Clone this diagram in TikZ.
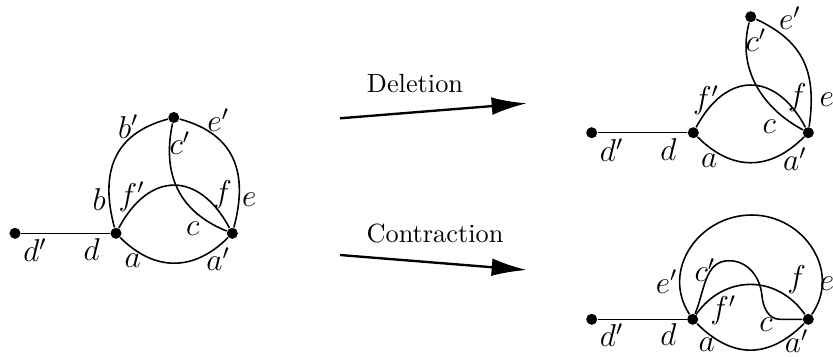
\documentclass[tikz,border=0pt]{standalone}
\usetikzlibrary{arrows.meta}
\begin{document}
\begin{tikzpicture}[x=0.38pt,y=0.38pt,
  vtx/.style={circle,fill=black,inner sep=0pt,minimum size=4.2pt},
  lbl/.style={inner sep=0pt,font=\large},
  edge/.style={line width=0.6pt},
  bigarrow/.style={line width=0.9pt,-{Latex[length=13.3pt,width=6.7pt]}}]
\useasboundingbox (0,0) rectangle (833,356);
% ---------- left graph ----------
\node[vtx] (dp1) at (15,122.7) {};
\node[vtx] (d1) at (116,122.7) {};
\node[vtx] (ap1) at (232.3,122.7) {};
\node[vtx] (t1) at (173.8,238.5) {};
\draw[edge] (dp1) -- (d1);
\draw[edge] (d1) to[out=105,in=195,looseness=1.2] (t1);
\draw[edge] (t1) to[out=-15,in=75,looseness=1.2] (ap1);
\draw[edge] (t1) to[out=258,in=158,looseness=1.1] (ap1);
\draw[edge] (d1) to[out=62,in=118,looseness=1.5] (ap1);
\draw[edge] (d1) to[out=-45,in=-135,looseness=1.15] (ap1);
\node[lbl] at (128.3,229.3) {$b'$};
\node[lbl] at (218.3,236) {$e'$};
\node[lbl] at (180,212.7) {$c'$};
\node[lbl] at (99.3,156.7) {$b$};
\node[lbl] at (131.7,159.3) {$f'$};
\node[lbl] at (222.7,161) {$f$};
\node[lbl] at (249.3,156.7) {$e$};
\node[lbl] at (192.7,127.7) {$c$};
\node[lbl] at (35,106) {$d'$};
\node[lbl] at (91.7,106) {$d$};
\node[lbl] at (132.7,95) {$a$};
\node[lbl] at (218.3,96.7) {$a'$};
% ---------- arrows ----------
\coordinate (del1) at (340,237.7);
\coordinate (del2) at (526.7,252.7);
\coordinate (con1) at (340,101);
\coordinate (con2) at (526.7,86);
\draw[bigarrow] (del1) -- (del2);
\draw[bigarrow] (con1) -- (con2);
\node[inner sep=0pt] (dellbl) at (415,272.7) {Deletion};
\node[inner sep=0pt] (conlbl) at (435,122.7) {Contraction};
% ---------- deletion graph ----------
\node[vtx] (dp2) at (591.7,223.3) {};
\node[vtx] (d2) at (693.3,223.3) {};
\node[vtx] (ap2) at (808.3,223.3) {};
\node[vtx] (t2) at (750.7,339.3) {};
\draw[edge] (dp2) -- (d2);
\draw[edge] (d2) to[out=62,in=118,looseness=1.5] (ap2);
\draw[edge] (d2) to[out=-45,in=-135,looseness=1.17] (ap2);
\draw[edge] (t2) to[out=255,in=152,looseness=1.0] (ap2);
\draw[edge] (t2) to[out=-25,in=82,looseness=1.15] (ap2);
\node[lbl] at (790,337.7) {$e'$};
\node[lbl] at (756,316) {$c'$};
\node[lbl] at (706,256) {$f'$};
\node[lbl] at (797.3,258.7) {$f$};
\node[lbl] at (826.7,256.7) {$e$};
\node[lbl] at (769.3,229.3) {$c$};
\node[lbl] at (611.7,206) {$d'$};
\node[lbl] at (668.3,206) {$d$};
\node[lbl] at (709.3,195.3) {$a$};
\node[lbl] at (795,196.7) {$a'$};
% ---------- contraction graph ----------
\node[vtx] (dp3) at (591.7,36.7) {};
\node[vtx] (d3) at (692.7,36.7) {};
\node[vtx] (ap3) at (808.3,36.7) {};
\coordinate (top3) at (751.7,141);
\coordinate (w1) at (729,95.3);
\coordinate (w2) at (762,60);
\coordinate (w3) at (780,36.7);
\draw[edge] (dp3) -- (d3);
\draw[edge] (d3) to[out=123,in=180,looseness=1.15] (top3) to[out=0,in=55,looseness=1.15] (ap3);
\draw[edge] (d3) to[out=55,in=125,looseness=1.15] (ap3);
\draw[edge] (d3) to[out=-45,in=-135,looseness=1.2] (ap3);
\draw[edge] (d3) to[out=67,in=180] (w1) to[out=0,in=95] (w2) to[out=275,in=180] (w3) -- (ap3);
\node[lbl] at (666.7,74.3) {$e'$};
\node[lbl] at (705,86) {$c'$};
\node[lbl] at (796.7,76) {$f$};
\node[lbl] at (827,72.7) {$e$};
\node[lbl] at (723.3,46) {$f'$};
\node[lbl] at (766,31) {$c$};
\node[lbl] at (611.7,21) {$d'$};
\node[lbl] at (668.3,21) {$d$};
\node[lbl] at (706.7,11) {$a$};
\node[lbl] at (796.7,15) {$a'$};
\end{tikzpicture}
\end{document}
